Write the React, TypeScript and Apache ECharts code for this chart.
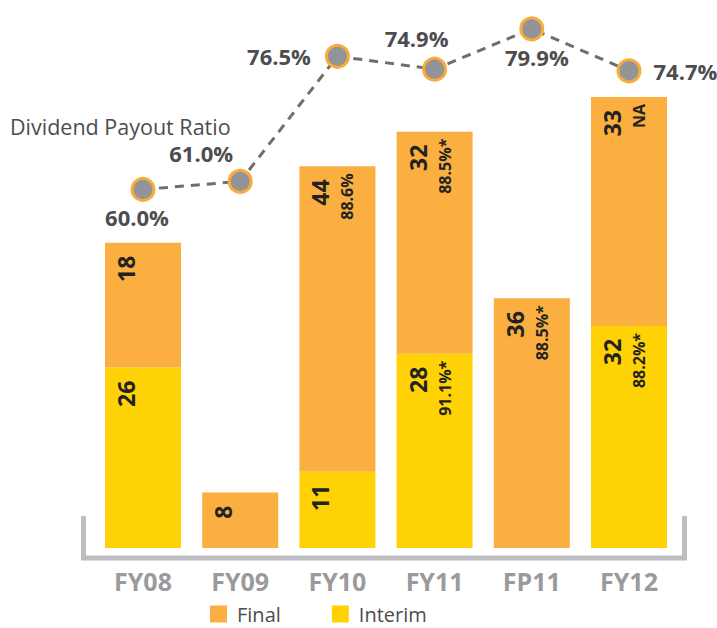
import React, { useEffect, useRef } from "react";
import * as echarts from "echarts";

const categories = ["FY08", "FY09", "FY10", "FY11", "FP11", "FY12"];
const interimValues = [26, 0, 11, 28, 0, 32];
const finalValues = [18, 8, 44, 32, 36, 33];
const interimNotes = ["", "", "", "91.1%*", "", "88.2%*"];
const finalNotes = ["", "", "88.6%", "88.5%*", "88.5%*", "NA"];
const payoutRatio = [60.0, 61.0, 76.5, 74.9, 79.9, 74.7];

// label placement for the payout ratio points (styling only)
const ratioLabelPlacement: any[] = [
  { position: "bottom", distance: 4, offset: [-6, 0] },
  { position: "top", distance: 5, offset: [-39, 0] },
  { position: "left", distance: 14, offset: [0, 0] },
  { position: "top", distance: 8, offset: [-18, 0] },
  { position: "bottom", distance: 5, offset: [5, 0] },
  { position: "right", distance: 12, offset: [0, 0] },
];

const FONT = "'Open Sans', 'Noto Sans', sans-serif";
const ORANGE = "#FAAF40";
const YELLOW = "#FED205";

function barLabel(notes: string[]) {
  return {
    show: true,
    position: "insideTop",
    rotate: 90,
    align: "right",
    verticalAlign: "middle",
    distance: 7,
    fontFamily: FONT,
    formatter: (p: any) =>
      p.value ? `{a|${p.value}}\n{b|${notes[p.dataIndex] || " "}}` : "",
    rich: {
      a: {
        fontFamily: FONT,
        fontSize: 23,
        fontWeight: "bold",
        color: "#222222",
        lineHeight: 20,
        padding: [0, 6, 0, 0],
      },
      b: {
        fontFamily: FONT,
        fontSize: 16,
        fontWeight: "bold",
        color: "#222222",
        lineHeight: 34,
      },
    },
  };
}

export default function App() {
  const ref = useRef<HTMLDivElement>(null);
  useEffect(() => {
    if (!ref.current) return;
    const chart = echarts.init(ref.current, null, { renderer: "svg" });
    chart.setOption({
      animation: false,
      backgroundColor: "#ffffff",
      textStyle: { fontFamily: FONT },
      grid: { left: 94.4, right: 39.4, top: 22, bottom: 80 },
      legend: {
        data: ["Final", "Interim"],
        left: 210,
        top: 604,
        padding: 0,
        icon: "rect",
        itemWidth: 17,
        itemHeight: 17,
        itemGap: 51,
        textStyle: {
          fontFamily: FONT,
          fontSize: 20,
          lineHeight: 20,
          color: "#4D4D4F",
          padding: [0, 0, 0, 5],
        },
      },
      xAxis: {
        type: "category",
        data: categories,
        axisLine: { show: false },
        axisTick: { show: false },
        axisLabel: {
          margin: 20,
          fontFamily: FONT,
          fontSize: 25,
          fontWeight: "bold",
          color: "#9A9A9D",
        },
      },
      yAxis: [
        { type: "value", min: 0, max: 75.8, show: false },
        { type: "value", min: 15.57, max: 80.75, show: false },
      ],
      graphic: [
        {
          type: "polyline",
          shape: {
            points: [
              [83.5, 516],
              [83.5, 558],
              [684.5, 558],
              [684.5, 516],
            ],
          },
          style: { stroke: "#BEBDC2", lineWidth: 5, fill: "none" },
          z: 1,
        },
        {
          type: "text",
          left: 10,
          top: 115,
          style: {
            text: "Dividend Payout Ratio",
            fontFamily: FONT,
            fontSize: 21.5,
            fill: "#4D4D4F",
          },
        },
      ],
      series: [
        {
          name: "Interim",
          type: "bar",
          stack: "div",
          barWidth: 76,
          itemStyle: { color: YELLOW },
          data: interimValues,
          label: barLabel(interimNotes),
          z: 2,
        },
        {
          name: "Final",
          type: "bar",
          stack: "div",
          barWidth: 76,
          itemStyle: { color: ORANGE },
          data: finalValues,
          label: barLabel(finalNotes),
          z: 2,
        },
        {
          name: "Dividend Payout Ratio",
          type: "line",
          yAxisIndex: 1,
          symbol: "circle",
          symbolSize: 22,
          z: 5,
          itemStyle: {
            color: "#939497",
            borderColor: "#F9AC3A",
            borderWidth: 3,
          },
          lineStyle: { color: "#6E6E70", width: 3, type: [9, 7] },
          data: payoutRatio.map((v, i) => ({
            value: v,
            label: {
              show: true,
              formatter: (p: any) => Number(p.value).toFixed(1) + "%",
              fontFamily: FONT,
              fontSize: 22,
              fontWeight: "bold",
              color: "#4D4D4F",
              ...ratioLabelPlacement[i],
            },
          })),
        },
      ],
    });
    return () => chart.dispose();
  }, []);
  return (
    <div
      ref={ref}
      style={{ position: "fixed", left: 0, top: 0, width: 717, height: 628 }}
    />
  );
}
